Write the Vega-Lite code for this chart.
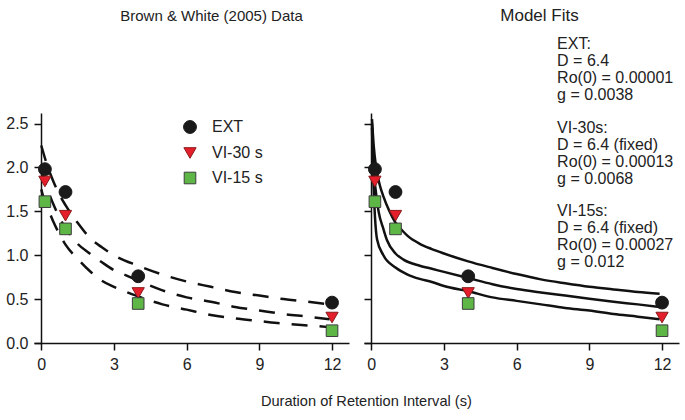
{
  "$schema": "https://vega.github.io/schema/vega-lite/v6.json",
  "background": "white",
  "padding": {"left": 5, "right": 5, "top": 6, "bottom": 5},
  "spacing": 14,
  "config": {
    "font": "Liberation Sans",
    "view": {"stroke": null},
    "axis": {
      "grid": false,
      "domainColor": "#111111",
      "domainWidth": 1.5,
      "tickColor": "#111111",
      "tickWidth": 1.5,
      "tickSize": 7,
      "labelFont": "Liberation Sans",
      "labelFontSize": 16,
      "labelColor": "#222222",
      "title": null
    },
    "title": {"font": "Liberation Sans", "fontSize": 16, "fontWeight": "normal", "color": "#222222"},
    "legend": {"labelFont": "Liberation Sans"}
  },
  "title": {"text": "Duration of Retention Interval (s)", "orient": "bottom", "anchor": "middle", "offset": 22, "fontSize": 14.6, "dx": 24},
  "resolve": {"scale": {"fill": "independent", "stroke": "independent", "shape": "independent", "size": "independent"}},
  "datasets": {
    "obs": [
      {"series": "EXT", "t": 0.15, "v": 1.98},
      {"series": "EXT", "t": 1, "v": 1.72},
      {"series": "EXT", "t": 4, "v": 0.76},
      {"series": "EXT", "t": 12, "v": 0.46},
      {"series": "VI-30 s", "t": 0.15, "v": 1.84},
      {"series": "VI-30 s", "t": 1, "v": 1.45},
      {"series": "VI-30 s", "t": 4, "v": 0.57},
      {"series": "VI-30 s", "t": 12, "v": 0.29},
      {"series": "VI-15 s", "t": 0.15, "v": 1.61},
      {"series": "VI-15 s", "t": 1, "v": 1.30},
      {"series": "VI-15 s", "t": 4, "v": 0.45},
      {"series": "VI-15 s", "t": 12, "v": 0.14}
    ],
    "dashfit": [
      {"series": "EXT", "t": 0, "v": 2.25}, {"series": "EXT", "t": 0.25, "v": 2.02}, {"series": "EXT", "t": 0.5, "v": 1.84},
      {"series": "EXT", "t": 0.75, "v": 1.69}, {"series": "EXT", "t": 1, "v": 1.57}, {"series": "EXT", "t": 1.5, "v": 1.37},
      {"series": "EXT", "t": 2, "v": 1.2}, {"series": "EXT", "t": 2.5, "v": 1.09}, {"series": "EXT", "t": 3, "v": 1.0},
      {"series": "EXT", "t": 4, "v": 0.88}, {"series": "EXT", "t": 5, "v": 0.78}, {"series": "EXT", "t": 6, "v": 0.7},
      {"series": "EXT", "t": 7, "v": 0.64}, {"series": "EXT", "t": 8, "v": 0.58}, {"series": "EXT", "t": 9, "v": 0.54},
      {"series": "EXT", "t": 10, "v": 0.5}, {"series": "EXT", "t": 11, "v": 0.47}, {"series": "EXT", "t": 11.9, "v": 0.44},
      {"series": "VI-30 s", "t": 0, "v": 1.98}, {"series": "VI-30 s", "t": 0.25, "v": 1.76}, {"series": "VI-30 s", "t": 0.5, "v": 1.58},
      {"series": "VI-30 s", "t": 0.75, "v": 1.43}, {"series": "VI-30 s", "t": 1, "v": 1.31}, {"series": "VI-30 s", "t": 1.5, "v": 1.13},
      {"series": "VI-30 s", "t": 2, "v": 1.02}, {"series": "VI-30 s", "t": 2.5, "v": 0.92}, {"series": "VI-30 s", "t": 3, "v": 0.83},
      {"series": "VI-30 s", "t": 3.5, "v": 0.77}, {"series": "VI-30 s", "t": 4, "v": 0.71}, {"series": "VI-30 s", "t": 5, "v": 0.6},
      {"series": "VI-30 s", "t": 6, "v": 0.52}, {"series": "VI-30 s", "t": 7, "v": 0.47}, {"series": "VI-30 s", "t": 8, "v": 0.41},
      {"series": "VI-30 s", "t": 9, "v": 0.37}, {"series": "VI-30 s", "t": 10, "v": 0.33}, {"series": "VI-30 s", "t": 11, "v": 0.3},
      {"series": "VI-30 s", "t": 11.9, "v": 0.27},
      {"series": "VI-15 s", "t": 0, "v": 1.75}, {"series": "VI-15 s", "t": 0.15, "v": 1.6}, {"series": "VI-15 s", "t": 0.35, "v": 1.48},
      {"series": "VI-15 s", "t": 0.5, "v": 1.38}, {"series": "VI-15 s", "t": 0.75, "v": 1.24}, {"series": "VI-15 s", "t": 1, "v": 1.12},
      {"series": "VI-15 s", "t": 1.5, "v": 0.96}, {"series": "VI-15 s", "t": 2, "v": 0.82}, {"series": "VI-15 s", "t": 2.5, "v": 0.71},
      {"series": "VI-15 s", "t": 3, "v": 0.64}, {"series": "VI-15 s", "t": 4, "v": 0.53}, {"series": "VI-15 s", "t": 5, "v": 0.44},
      {"series": "VI-15 s", "t": 6, "v": 0.38}, {"series": "VI-15 s", "t": 7, "v": 0.32}, {"series": "VI-15 s", "t": 8, "v": 0.28},
      {"series": "VI-15 s", "t": 9, "v": 0.25}, {"series": "VI-15 s", "t": 10, "v": 0.22}, {"series": "VI-15 s", "t": 11, "v": 0.2},
      {"series": "VI-15 s", "t": 11.9, "v": 0.18}
    ],
    "modelfit": [
      {"series": "EXT", "t": 0.03, "v": 2.55}, {"series": "EXT", "t": 0.1, "v": 2.25}, {"series": "EXT", "t": 0.2, "v": 2.0},
      {"series": "EXT", "t": 0.35, "v": 1.8}, {"series": "EXT", "t": 0.5, "v": 1.67}, {"series": "EXT", "t": 0.75, "v": 1.5},
      {"series": "EXT", "t": 1, "v": 1.37}, {"series": "EXT", "t": 1.25, "v": 1.29}, {"series": "EXT", "t": 1.5, "v": 1.22},
      {"series": "EXT", "t": 2, "v": 1.13}, {"series": "EXT", "t": 2.5, "v": 1.07}, {"series": "EXT", "t": 3, "v": 1.02},
      {"series": "EXT", "t": 4, "v": 0.93}, {"series": "EXT", "t": 5, "v": 0.855}, {"series": "EXT", "t": 6, "v": 0.785},
      {"series": "EXT", "t": 7, "v": 0.725}, {"series": "EXT", "t": 8, "v": 0.68}, {"series": "EXT", "t": 9, "v": 0.64},
      {"series": "EXT", "t": 10, "v": 0.61}, {"series": "EXT", "t": 11, "v": 0.58}, {"series": "EXT", "t": 11.9, "v": 0.56},
      {"series": "VI-30 s", "t": 0.03, "v": 2.5}, {"series": "VI-30 s", "t": 0.1, "v": 2.0}, {"series": "VI-30 s", "t": 0.2, "v": 1.7},
      {"series": "VI-30 s", "t": 0.3, "v": 1.5}, {"series": "VI-30 s", "t": 0.5, "v": 1.3}, {"series": "VI-30 s", "t": 0.65, "v": 1.17},
      {"series": "VI-30 s", "t": 1, "v": 1.02}, {"series": "VI-30 s", "t": 1.33, "v": 0.95}, {"series": "VI-30 s", "t": 2, "v": 0.88},
      {"series": "VI-30 s", "t": 2.5, "v": 0.845}, {"series": "VI-30 s", "t": 3, "v": 0.81}, {"series": "VI-30 s", "t": 4, "v": 0.74},
      {"series": "VI-30 s", "t": 5, "v": 0.67}, {"series": "VI-30 s", "t": 6, "v": 0.615}, {"series": "VI-30 s", "t": 7, "v": 0.575},
      {"series": "VI-30 s", "t": 8, "v": 0.54}, {"series": "VI-30 s", "t": 9, "v": 0.505}, {"series": "VI-30 s", "t": 10, "v": 0.47},
      {"series": "VI-30 s", "t": 11, "v": 0.44}, {"series": "VI-30 s", "t": 11.9, "v": 0.41},
      {"series": "VI-15 s", "t": 0.03, "v": 2.45}, {"series": "VI-15 s", "t": 0.08, "v": 1.9}, {"series": "VI-15 s", "t": 0.15, "v": 1.45},
      {"series": "VI-15 s", "t": 0.24, "v": 1.18}, {"series": "VI-15 s", "t": 0.5, "v": 1.0}, {"series": "VI-15 s", "t": 1, "v": 0.86},
      {"series": "VI-15 s", "t": 1.5, "v": 0.78}, {"series": "VI-15 s", "t": 2, "v": 0.73}, {"series": "VI-15 s", "t": 2.5, "v": 0.695},
      {"series": "VI-15 s", "t": 3, "v": 0.65}, {"series": "VI-15 s", "t": 4, "v": 0.59}, {"series": "VI-15 s", "t": 5, "v": 0.52},
      {"series": "VI-15 s", "t": 6, "v": 0.48}, {"series": "VI-15 s", "t": 7, "v": 0.44}, {"series": "VI-15 s", "t": 8, "v": 0.4},
      {"series": "VI-15 s", "t": 9, "v": 0.37}, {"series": "VI-15 s", "t": 10, "v": 0.33}, {"series": "VI-15 s", "t": 11, "v": 0.3},
      {"series": "VI-15 s", "t": 11.9, "v": 0.27}
    ],
    "notes": [
      {"t": 7.67, "v": 3.35, "label": ["EXT:", "D = 6.4", "Ro(0) = 0.00001", "g = 0.0038"]},
      {"t": 7.67, "v": 2.395, "label": ["VI-30s:", "D = 6.4 (fixed)", "Ro(0) = 0.00013", "g = 0.0068"]},
      {"t": 7.67, "v": 1.45, "label": ["VI-15s:", "D = 6.4 (fixed)", "Ro(0) = 0.00027", "g = 0.012"]}
    ]
  },
  "hconcat": [
    {
      "width": 315,
      "height": 230,
      "title": {"text": "Brown & White (2005) Data", "offset": 89, "fontSize": 15, "dx": 20},
      "encoding": {
        "x": {"field": "t", "type": "quantitative", "scale": {"domain": [-0.3, 12.7], "nice": false, "zero": false},
              "axis": {"values": [0, 3, 6, 9, 12], "labelPadding": 6}},
        "y": {"field": "v", "type": "quantitative", "scale": {"domain": [0, 2.62], "nice": false},
              "axis": {"values": [0, 0.5, 1, 1.5, 2, 2.5], "format": ".1f", "offset": -7, "labelPadding": 6}}
      },
      "layer": [
        {
          "data": {"name": "dashfit"},
          "mark": {"type": "line", "color": "#111111", "strokeWidth": 2.5, "strokeDash": [16, 12], "interpolate": "monotone"},
          "encoding": {"detail": {"field": "series", "type": "nominal"}}
        },
        {
          "data": {"name": "obs"},
          "mark": {"type": "point", "filled": true, "opacity": 1, "strokeWidth": 1},
          "encoding": {
            "fill": {"field": "series", "type": "nominal",
                     "scale": {"domain": ["EXT", "VI-30 s", "VI-15 s"], "range": ["#1a1a1a", "#e41e2b", "#5db646"]},
                     "legend": {"title": null, "orient": "none", "legendX": 148, "legendY": 6, "padding": 0, "labelFontSize": 16, "labelColor": "#222222", "rowPadding": 9, "labelOffset": 14, "symbolStrokeWidth": 1}},
            "stroke": {"field": "series", "type": "nominal",
                       "scale": {"domain": ["EXT", "VI-30 s", "VI-15 s"], "range": ["#1a1a1a", "#8a1a1a", "#3d3d3d"]},
                       "legend": {"title": null, "orient": "none", "legendX": 148, "legendY": 6, "padding": 0, "labelFontSize": 16, "labelColor": "#222222", "rowPadding": 9, "labelOffset": 14, "symbolStrokeWidth": 1}},
            "shape": {"field": "series", "type": "nominal",
                      "scale": {"domain": ["EXT", "VI-30 s", "VI-15 s"], "range": ["circle", "triangle-down", "square"]},
                      "legend": {"title": null, "orient": "none", "legendX": 148, "legendY": 6, "padding": 0, "labelFontSize": 16, "labelColor": "#222222", "rowPadding": 9, "labelOffset": 14, "symbolStrokeWidth": 1}},
            "size": {"field": "series", "type": "nominal",
                     "scale": {"domain": ["EXT", "VI-30 s", "VI-15 s"], "range": [165, 135, 115]},
                     "legend": {"title": null, "orient": "none", "legendX": 148, "legendY": 6, "padding": 0, "labelFontSize": 16, "labelColor": "#222222", "rowPadding": 9, "labelOffset": 14, "symbolStrokeWidth": 1}}
          }
        }
      ]
    },
    {
      "width": 315,
      "height": 230,
      "title": {"text": "Model Fits", "offset": 11, "fontSize": 17, "dx": 18},
      "encoding": {
        "x": {"field": "t", "type": "quantitative", "scale": {"domain": [-0.3, 12.7], "nice": false, "zero": false},
              "axis": {"values": [0, 3, 6, 9, 12], "labelPadding": 6}},
        "y": {"field": "v", "type": "quantitative", "scale": {"domain": [0, 2.62], "nice": false},
              "axis": {"values": [0, 0.5, 1, 1.5, 2, 2.5], "labels": false, "offset": -7}}
      },
      "layer": [
        {
          "data": {"name": "modelfit"},
          "mark": {"type": "line", "color": "#111111", "strokeWidth": 2.5, "interpolate": "monotone"},
          "encoding": {"detail": {"field": "series", "type": "nominal"}}
        },
        {
          "data": {"name": "obs"},
          "mark": {"type": "point", "filled": true, "opacity": 1, "strokeWidth": 1},
          "encoding": {
            "fill": {"field": "series", "type": "nominal",
                     "scale": {"domain": ["EXT", "VI-30 s", "VI-15 s"], "range": ["#1a1a1a", "#e41e2b", "#5db646"]}, "legend": null},
            "stroke": {"field": "series", "type": "nominal",
                       "scale": {"domain": ["EXT", "VI-30 s", "VI-15 s"], "range": ["#1a1a1a", "#8a1a1a", "#3d3d3d"]}, "legend": null},
            "shape": {"field": "series", "type": "nominal",
                      "scale": {"domain": ["EXT", "VI-30 s", "VI-15 s"], "range": ["circle", "triangle-down", "square"]}, "legend": null},
            "size": {"field": "series", "type": "nominal",
                     "scale": {"domain": ["EXT", "VI-30 s", "VI-15 s"], "range": [165, 135, 115]}, "legend": null}
          }
        },
        {
          "data": {"name": "notes"},
          "mark": {"type": "text", "align": "left", "baseline": "alphabetic", "fontSize": 16, "lineHeight": 17, "color": "#222222"},
          "encoding": {"text": {"field": "label", "type": "nominal"}}
        }
      ]
    }
  ]
}
